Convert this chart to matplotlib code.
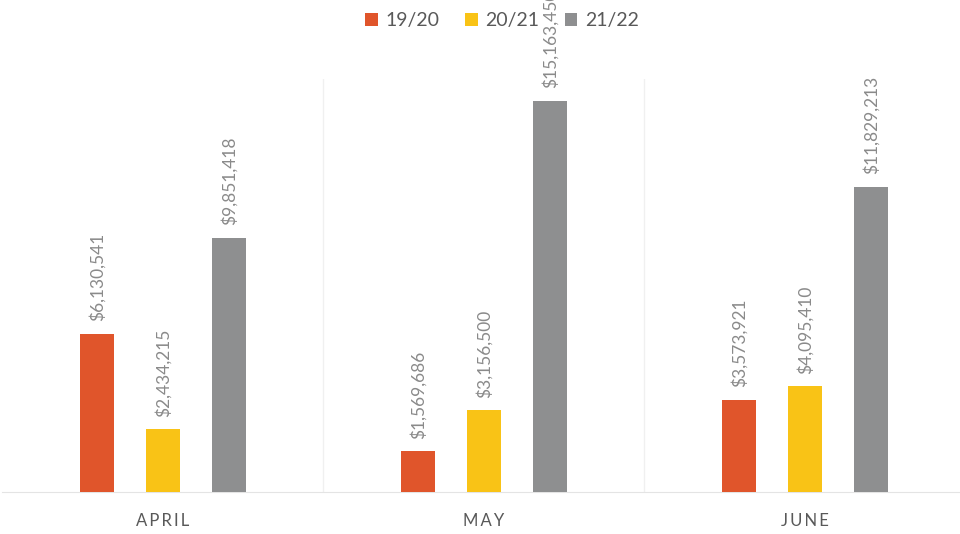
import matplotlib
matplotlib.use("Agg")
from matplotlib import pyplot as plt
import numpy as np

months = ["APRIL", "MAY", "JUNE"]
seasons = ["19/20", "20/21", "21/22"]
val_1920 = [6130541, 1569686, 3573921]
val_2021 = [2434215, 3156500, 4095410]
val_2122 = [9851418, 15163450, 11829213]

colours = ["#E0552B", "#F9C316", "#8E8F90"]
series = [val_1920, val_2021, val_2122]

plt.rcParams['font.family'] = ['Lato', 'DejaVu Sans']

fig = plt.figure(figsize=(9.6, 5.34), dpi=100)
ax = fig.add_axes([0.0026, 0.0787, 1.0031, 0.7735])

x = np.arange(len(months))
width = 0.106
step = 0.206

for i, vals in enumerate(series):
    bars = ax.bar(x + (i - 1) * step, vals, width, color=colours[i], label=seasons[i], zorder=3)
    for b, v in zip(bars, vals):
        ax.annotate("${:,}".format(v), (b.get_x() + b.get_width() / 2, v),
                    xytext=(0, 9), textcoords="offset points", rotation=90,
                    ha="center", va="bottom", fontsize=12.5, color="#8a8a8a",
                    annotation_clip=False)

# faint category separators
for sep in [0.5, 1.5]:
    ax.axvline(sep, color="#f0f0f0", lw=1, zorder=0)

ax.set_xlim(-0.5, 2.5)
ax.set_ylim(0, 16000000)
ax.set_xticks(x)
ax.set_xticklabels(["\u2009".join(m) for m in months], fontsize=12, color="#595959")
ax.tick_params(axis="x", length=0, pad=15)
ax.set_yticks([])
for s in ["top", "right", "left"]:
    ax.spines[s].set_visible(False)
ax.spines["bottom"].set_color("#e4e4e4")

fig.legend(loc="upper center", bbox_to_anchor=(0.523, 1.01), ncol=3, frameon=False,
           fontsize=14, handlelength=0.65, handleheight=0.65, handletextpad=0.4,
           columnspacing=1.3, labelcolor="#595959")

fig.savefig("out.png", dpi=100)
